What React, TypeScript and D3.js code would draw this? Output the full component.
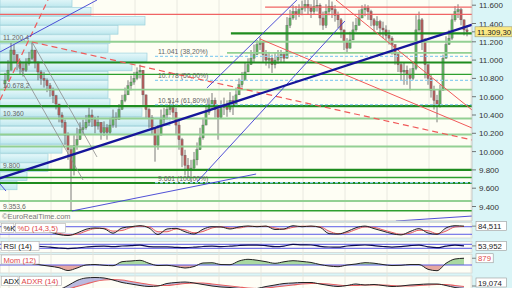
import React from "react";
import * as d3 from "d3";

const W = 512;
const H = 288;
const PLOT_R = 472;
const MAIN_B = 221;

// ---- Candles (price) ----
const firstOpen = 10740;
const closes = [
  10780, 10890, 11110, 11060, 10980, 10910, 10890, 10960, 11020, 11110,
  10980, 10870, 10800, 10780, 10720, 10670, 10610, 10520, 10400, 10320,
  10180, 10020, 9800, 10070, 10130, 10240, 10260, 10320, 10400, 10350,
  10280, 10320, 10210, 10260, 10210, 10290, 10370, 10350, 10460, 10560,
  10620, 10720, 10760, 10800, 10870, 10890, 10620, 10460, 10370, 10260,
  10070, 10180, 10350, 10400, 10460, 10480, 10430, 10290, 10130, 9960,
  9850, 9800, 9820, 9910, 10020, 10150, 10290, 10430, 10510, 10560,
  10460, 10370, 10480, 10510, 10460, 10560, 10510, 10620, 10730, 10780,
  10870, 10950, 11020, 11060, 11170, 11200, 11060, 11000, 11020, 10950,
  11000, 11030, 11060, 11020, 11380, 11460, 11530, 11500, 11550, 11570,
  11610, 11570, 11530, 11590, 11600, 11460, 11380, 11530, 11590, 11550,
  11490, 11440, 11330, 11200, 11130, 11220, 11330, 11380, 11460, 11550,
  11570, 11530, 11440, 11380, 11420, 11350, 11330, 11270, 11240, 11170,
  11060, 10950, 10870, 10890, 10840, 10800, 10910, 11330, 11440, 11220,
  10950, 10800, 10670, 10560, 10510, 10670, 11020, 11170, 11240, 11440,
  11530, 11550, 11440, 11330, 11309.3,
];
const highs = [
  10860, 11000, 11190, 11170, 11060, 11000, 10970, 11020, 11090, 11200.4,
  11110, 10960, 10890, 10870, 10800, 10750, 10700, 10620, 10510, 10430,
  10350, 10210, 10070, 10180, 10260, 10320, 10350, 10400, 10480, 10460,
  10380, 10390, 10320, 10330, 10300, 10370, 10460, 10430, 10520, 10620,
  10700, 10780, 10830, 10870, 10920, 10950, 10890, 10620, 10480, 10400,
  10260, 10290, 10460, 10480, 10520, 10560, 10540, 10480, 10350, 10150,
  10020, 9930, 9910, 9996, 10100, 10260, 10370, 10510, 10590, 10640,
  10590, 10480, 10560, 10590, 10560, 10650, 10610, 10700, 10800, 10870,
  10970, 11020, 11110, 11170, 11220, 11250, 11170, 11110, 11090, 11060,
  11080, 11110, 11110, 11090, 11470, 11550, 11600, 11590, 11610, 11650,
  11680, 11660, 11610, 11660, 11680, 11620, 11530, 11610, 11660, 11640,
  11600, 11530, 11460, 11330, 11240, 11310, 11420, 11460, 11550, 11600,
  11610, 11600, 11550, 11460, 11480, 11440, 11420, 11380, 11330, 11260,
  11170, 11090, 10980, 10970, 10940, 10910, 10980, 11490, 11530, 11460,
  11240, 10950, 10840, 10720, 10620, 10730, 11060, 11260, 11330, 11500,
  11590, 11610, 11570, 11440, 11380,
];
const lows = [
  10700, 10780, 10950, 10980, 10890, 10840, 10820, 10870, 10940, 11000,
  10910, 10780, 10730, 10700, 10650, 10600, 10530, 10460, 10320, 10260,
  10070, 9910, 9353.6, 9740, 10020, 10150, 10180, 10240, 10280, 10270,
  10200, 10240, 10130, 10170, 10130, 10190, 10260, 10260, 10350, 10460,
  10540, 10620, 10670, 10730, 10780, 10800, 10510, 10370, 10260, 10180,
  9890, 10020, 10240, 10290, 10350, 10400, 10350, 10180, 10020, 9830,
  9740, 9710, 9661, 9800, 9850, 10020, 10130, 10290, 10400, 10460,
  10370, 10130, 10370, 10400, 10380, 10430, 10400, 10510, 10640, 10700,
  10780, 10870, 10950, 10980, 11060, 11110, 10980, 10940, 10910, 10860,
  10910, 10960, 10980, 10970, 11060, 11350, 11440, 11440, 11470, 11490,
  11530, 11500, 11460, 11500, 11530, 11380, 11330, 11350, 11490, 11460,
  11420, 11350, 11240, 11110, 11080, 11130, 11240, 11310, 11380, 11460,
  11480, 11440, 11370, 11310, 11330, 11270, 11240, 11220, 11170, 11060,
  10950, 10870, 10780, 10730, 10730, 10670, 10780, 10890, 11310, 11110,
  10800, 10730, 10590, 10460, 10320, 10480, 10890, 11090, 11170, 11220,
  11420, 11460, 11380, 11270, 11260,
];

// ---- Volume profile ----
const vpLow = [
  11580, 11480, 11380, 11280, 11180, 11080, 10980, 10880, 10780, 10680, 10580,
  10480, 10380, 10280, 10180, 10080, 9980, 9880, 9780, 9680, 9580,
];
const vpVol = [72, 91, 145, 118, 110, 108, 147, 132, 108, 108, 108, 110, 142, 170, 152, 68, 62, 48, 48, 27, 17];

// ---- Horizontal levels ----
const hLevels = [11580, 11500, 11293, 11200.4, 11078, 10974, 10845, 10678.2, 10498, 10362, 10187, 10056, 9800, 9717, 9657, 9460, 9353.6];
const hStartIdx = [86.7, -3, 75.3, -3, 74, -3, -3, -3, -3, -3, -3, -3, -3, -3, -3, -3, -3];
const hKinds = ["red", "red", "dark", "light", "light", "dark", "mid", "light", "dark", "light", "light", "light", "dark", "mid", "dark", "light", "mid"];
const levelLabels = ["11.200,4", "10.678,2", "10.360", "9.800", "9.353,6"];
const levelLabelPrices = [11200.4, 10678.2, 10362, 9800, 9353.6];

// ---- Fibonacci ----
const fibLevels = [11041, 10778, 10514, 9661];
const fibLabels = ["11.041 (38,20%)", "10.778 (50,00%)", "10.514 (61,80%)", "9.661 (100,00%)"];
const fibStartIdx = 50;

// ---- Trend lines [idx, price, idx, price] ----
const trendNavy = [[-2, 9705, 156, 11390]];
const trendBlue = [
  [-1.67, 11089, 30.67, 11657],
  [67.3, 10695, 97.3, 11657],
  [64, 9668, 113.3, 11427],
  [22.3, 9351, 83.7, 9755],
  [130.3, 9241, 155.7, 9296],
  [-1.67, 9646, 0.33, 9569],
];
const trendGrey = [
  [9, 11198, 30.67, 9941],
  [4.33, 10947, 26, 9690],
];
const trendRedDash = [
  [9, 11198, 155.67, 10127],
  [-1.67, 10564, 14.33, 11657],
];
const trendRed = [
  [85, 11231, 155.67, 10258],
  [110.33, 11657, 155.67, 10455],
];

// ---- Indicators (sampled every 3 candles from index 9) ----
const stochK = [70, 58, 38, 18, 10, 30, 60, 70, 64, 28, 70, 80, 88, 70, 18, 62, 67, 40, 22, 60, 80, 78, 62, 78, 86, 80, 85, 58, 62, 88, 80, 85, 75, 25, 22, 42, 72, 85, 65, 45, 25, 15, 42, 65, 30, 20, 70, 88, 84.5];
const stochD = [72, 65, 48, 28, 15, 20, 45, 65, 68, 45, 50, 74, 84, 80, 40, 40, 62, 55, 32, 42, 70, 80, 70, 70, 82, 83, 83, 70, 60, 75, 84, 83, 80, 45, 25, 32, 58, 78, 75, 55, 35, 20, 28, 52, 48, 25, 45, 78, 82];
const rsi = [56, 48, 42, 33, 27, 33, 43, 50, 51, 46, 53, 56, 62, 47, 44, 45, 40, 37, 41, 48, 52, 47, 51, 58, 62, 62, 56, 47, 52, 69, 64, 63, 50, 43, 41, 53, 60, 63, 57, 48, 42, 47, 56, 62, 45, 36, 52, 62, 54];
const mom = [220, 0, -160, -350, -720, -390, 0, 60, -40, -90, 430, 520, 610, 220, -70, -40, -200, -390, -200, 260, 290, 60, 40, 520, 740, 620, 430, 220, 420, 560, 460, 330, 60, -130, -220, 0, 130, 300, 230, 60, -70, -40, 60, 60, -560, -740, 220, 780, 879];
const adx = [14, 14, 15, 17, 25, 35, 40, 41, 40, 36, 31, 28, 25, 23, 24, 29, 31, 32, 30, 27, 24, 22, 21, 19, 17, 19, 23, 26, 29, 30, 31, 31, 28, 25, 23, 25, 28, 26, 27, 25, 23, 24, 26, 27, 28, 28, 25, 21, 19.07];
const adxr = [13, 13, 14, 15, 18, 23, 28, 33, 36, 37, 36, 33, 30, 27, 25, 25, 27, 29, 30, 30, 28, 26, 24, 22, 20, 19, 20, 22, 24, 26, 28, 29, 29, 28, 26, 25, 25, 26, 26, 26, 25, 24, 24, 25, 26, 27, 27, 25, 23];

const priceTicks = [9400, 9600, 9800, 10000, 10200, 10400, 10600, 10800, 11000, 11200, 11400, 11600];
const lastPriceLabel = "11.309,30";

const loc = d3.formatLocale({ decimal: ",", thousands: ".", grouping: [3], currency: ["", ""] });
const fmtTick = loc.format(",.0f");

const FONT = "Liberation Sans, Arial, sans-serif";

const kindStyle: Record<string, { c: string; w: number }> = {
  red: { c: "#f06464", w: 1.2 },
  dark: { c: "#1f8c1f", w: 2.2 },
  mid: { c: "#2f9f2f", w: 1.3 },
  light: { c: "#93d093", w: 1.8 },
};

export default function App() {
  const n = closes.length;
  const x = d3.scaleLinear().domain([0, n - 1]).range([5, 467]);
  const y = d3.scaleLinear().domain([9400, 11600]).range([206.5, 5.2]);
  const vScale = d3.scaleLinear().domain([0, 170]).range([0, 170]);
  const opens = closes.map((c, i) => (i === 0 ? firstOpen : closes[i - 1]));
  const sampleIdx = d3.range(9, n - 1, 3);

  const panels = [
    { top: 222.5, bottom: 238 },
    { top: 241.5, bottom: 252.5 },
    { top: 254.5, bottom: 273 },
    { top: 276, bottom: 296 },
  ];
  const yS = d3.scaleLinear().domain([0, 100]).range([236.8, 224.2]);
  const yR = d3.scaleLinear().domain([30, 70]).range([248.3, 244.3]);
  const yM = d3.scaleLinear().domain([-910, 1300]).range([272, 255]);
  const yA = d3.scaleLinear().domain([19, 41]).range([288.5, 277.5]);

  const lineOf = (arr: number[], ys: d3.ScaleLinear<number, number>) =>
    d3.line<number>().x((_, i) => x(sampleIdx[i])).y((d) => ys(d)).curve(d3.curveMonotoneX)(arr) || "";

  const momArea = d3.area<number>().x((_, i) => x(sampleIdx[i])).y0(yM(0)).y1((d) => yM(d)).curve(d3.curveMonotoneX)(mom) || "";
  const adxArea = d3.area<number>().x((_, i) => x(sampleIdx[i])).y0((_, i) => yA(adxr[i])).y1((d) => yA(d)).curve(d3.curveMonotoneX)(adx) || "";
  const stochArea = d3.area<number>().x((_, i) => x(sampleIdx[i])).y0((_, i) => yS(stochD[i])).y1((d) => yS(d)).curve(d3.curveMonotoneX)(stochK) || "";

  const seg = (t: number[], key: string, stroke: string, w: number, dash?: string) => (
    <line key={key} x1={x(t[0])} y1={y(t[1])} x2={x(t[2])} y2={y(t[3])} stroke={stroke} strokeWidth={w} strokeDasharray={dash} />
  );

  const gridX = d3.range(9, PLOT_R, 42);

  const labelBox = (parts: { t: string; c: string }[], x0: number, yc: number) => {
    let cx = x0;
    return parts.map((p, i) => {
      const w = p.t.length * 4.2 + 4;
      const el = (
        <g key={i}>
          <rect x={cx} y={yc - 4.5} width={w} height={9} fill="#ffffff" stroke="#b0b0b0" strokeWidth={0.6} />
          <text x={cx + 2} y={yc + 3} fontSize={7.6} fill={p.c} fontFamily={FONT}>{p.t}</text>
        </g>
      );
      cx += w + 1.5;
      return el;
    });
  };

  const valueBox = (t: string, yc: number, color: string, tickY?: number) => (
    <g>
      <line x1={PLOT_R} x2={PLOT_R + 4} y1={tickY ?? yc} y2={tickY ?? yc} stroke="#666" strokeWidth={0.8} />
      <rect x={476} y={yc - 4.5} width={t.length * 4.4 + 4} height={9} fill="#ffffff" stroke="#999" strokeWidth={0.6} />
      <text x={478} y={yc + 3} fontSize={7.8} fill={color} fontFamily={FONT}>{t}</text>
    </g>
  );

  return (
    <div style={{ position: "absolute", left: 0, top: 0, width: W, height: H }}>
      <svg width={W} height={H} viewBox={`0 0 ${W} ${H}`} style={{ display: "block" }}>
        <defs>
          <linearGradient id="vpg" x1="0" y1="0" x2="0" y2="1">
            <stop offset="0" stopColor="#e6f8fa" />
            <stop offset="1" stopColor="#bfe8ee" />
          </linearGradient>
          <clipPath id="mainClip"><rect x={0} y={0} width={PLOT_R} height={MAIN_B} /></clipPath>
          {panels.map((p, i) => (
            <clipPath key={i} id={`pc${i}`}><rect x={0} y={p.top} width={PLOT_R} height={p.bottom - p.top} /></clipPath>
          ))}
          <clipPath id="momUp"><rect x={0} y={panels[2].top} width={PLOT_R} height={yM(0) - panels[2].top} /></clipPath>
          <clipPath id="momDn"><rect x={0} y={yM(0)} width={PLOT_R} height={panels[2].bottom - yM(0)} /></clipPath>
        </defs>

        <rect x={0} y={0} width={W} height={H} fill="#daf5f7" />
        <rect x={0} y={0} width={PLOT_R} height={MAIN_B} fill="#fefef4" />
        {panels.map((p, i) => (
          <rect key={i} x={0} y={p.top} width={PLOT_R} height={p.bottom - p.top} fill="#fefef6" stroke="#c8c8c8" strokeWidth={0.6} />
        ))}

        {gridX.map((gx) => (
          <line key={gx} x1={gx} x2={gx} y1={0} y2={H} stroke="#e4e4dc" strokeWidth={0.8} />
        ))}

        <g clipPath="url(#mainClip)">
          {vpLow.map((lo, i) => (
            <rect key={lo} x={0} y={y(lo + 100) + 0.3} width={vScale(vpVol[i])} height={y(lo) - y(lo + 100) - 0.6}
              fill="url(#vpg)" stroke="#9ed2dc" strokeWidth={0.7} />
          ))}

          {closes.map((c, i) => {
            const o = opens[i];
            const hi = Math.max(highs[i], o, c);
            const lo = Math.min(lows[i], o, c);
            const up = c >= o;
            const top = y(Math.max(o, c));
            const bh = Math.max(1, y(Math.min(o, c)) - top);
            return (
              <g key={i}>
                <line x1={x(i)} x2={x(i)} y1={y(hi)} y2={y(lo)} stroke="#5a5a5a" strokeWidth={0.8} />
                <rect x={x(i) - 1.1} y={top} width={2.2} height={bh} fill={up ? "#62b262" : "#b45e5e"} stroke="#555" strokeWidth={0.35} />
              </g>
            );
          })}

          {hLevels.map((lv, i) => {
            const s = kindStyle[hKinds[i]];
            return <line key={i} x1={x(hStartIdx[i])} x2={PLOT_R} y1={y(lv)} y2={y(lv)} stroke={s.c} strokeWidth={s.w} />;
          })}

          {fibLevels.map((lv, i) => (
            <g key={lv}>
              <line x1={x(fibStartIdx)} x2={PLOT_R} y1={y(lv)} y2={y(lv)} stroke="#8fd0f0" strokeWidth={1.2} strokeDasharray="3,2" />
              <text x={x(fibStartIdx) + 3} y={y(lv) - 2} fontSize={6.8} fill="#666" fontFamily={FONT}>{fibLabels[i]}</text>
            </g>
          ))}

          {trendGrey.map((t, i) => seg(t, `g${i}`, "#8a8a8a", 0.8))}
          {trendRedDash.map((t, i) => seg(t, `rd${i}`, "#f05a5a", 1.2, "6,4"))}
          {trendRed.map((t, i) => seg(t, `r${i}`, "#f05a5a", 1))}
          {trendBlue.map((t, i) => seg(t, `b${i}`, "#3c3cd2", 0.9))}
          {trendNavy.map((t, i) => seg(t, `n${i}`, "#16169a", 2.3))}

          {levelLabels.map((t, i) => (
            <text key={t} x={3} y={y(levelLabelPrices[i]) - 2} fontSize={6.8} fill="#666" fontFamily={FONT}>{t}</text>
          ))}
          <text x={2} y={219} fontSize={7.4} fill="#777" fontFamily={FONT}>©EuroRealTime.com</text>
        </g>
        <line x1={0} x2={PLOT_R} y1={MAIN_B} y2={MAIN_B} stroke="#bdbdbd" strokeWidth={0.8} />
        <line x1={PLOT_R} x2={PLOT_R} y1={0} y2={MAIN_B} stroke="#bdbdbd" strokeWidth={0.8} />

        {priceTicks.map((t) => (
          <g key={t}>
            <line x1={PLOT_R} x2={PLOT_R + 4} y1={y(t)} y2={y(t)} stroke="#555" strokeWidth={0.8} />
            <text x={479} y={y(t) + 3} fontSize={8} fill="#333" fontFamily={FONT}>{fmtTick(t)}</text>
          </g>
        ))}
        <line x1={PLOT_R} x2={PLOT_R + 4} y1={y(closes[n - 1])} y2={y(closes[n - 1])} stroke="#555" strokeWidth={0.8} />
        <rect x={475} y={y(closes[n - 1]) - 5} width={37} height={10} fill="#fbe985" stroke="#9a9a7a" strokeWidth={0.6} />
        <text x={477} y={y(closes[n - 1]) + 3} fontSize={7.8} fill="#222" fontFamily={FONT}>{lastPriceLabel}</text>

        <g clipPath="url(#pc0)">
          <path d={stochArea} fill="#c9a9d9" opacity={0.45} />
          <line x1={0} x2={PLOT_R} y1={yS(80)} y2={yS(80)} stroke="#5a5ae6" strokeWidth={1} />
          <line x1={0} x2={PLOT_R} y1={yS(20)} y2={yS(20)} stroke="#5a5ae6" strokeWidth={1} />
          <path d={lineOf(stochD, yS)} fill="none" stroke="#e86060" strokeWidth={1} />
          <path d={lineOf(stochK, yS)} fill="none" stroke="#222" strokeWidth={1} />
        </g>
        {labelBox([{ t: "%K", c: "#111" }, { t: "%D (14,3,5)", c: "#e04848" }], 1.5, 228)}
        {valueBox("84,511", yS(stochK[stochK.length - 1]), "#222")}

        <g clipPath="url(#pc1)">
          <line x1={0} x2={PLOT_R} y1={yR(70)} y2={yR(70)} stroke="#5a5ae6" strokeWidth={1} />
          <line x1={0} x2={PLOT_R} y1={yR(30)} y2={yR(30)} stroke="#5a5ae6" strokeWidth={1} />
          <path d={lineOf(rsi, yR)} fill="none" stroke="#0a0a50" strokeWidth={1.2} />
        </g>
        {labelBox([{ t: "RSI (14)", c: "#111" }], 1.5, 246)}
        {valueBox("53,952", yR(rsi[rsi.length - 1]), "#222")}

        <g clipPath="url(#pc2)">
          <path d={momArea} fill="#a9d8a0" clipPath="url(#momUp)" />
          <path d={momArea} fill="#e6a8a0" clipPath="url(#momDn)" />
          <line x1={0} x2={PLOT_R} y1={yM(0)} y2={yM(0)} stroke="#5a5ae6" strokeWidth={1} />
          <path d={lineOf(mom, yM)} fill="none" stroke="#222" strokeWidth={1} />
        </g>
        {labelBox([{ t: "Mom (12)", c: "#e04848" }], 1.5, 259.5)}
        {valueBox("879", yM(mom[mom.length - 1]), "#e04848")}

        <g clipPath="url(#pc3)">
          <path d={adxArea} fill="#9c9cd6" opacity={0.7} />
          <path d={lineOf(adxr, yA)} fill="none" stroke="#e86060" strokeWidth={1.1} />
          <path d={lineOf(adx, yA)} fill="none" stroke="#222" strokeWidth={1} />
        </g>
        {labelBox([{ t: "ADX", c: "#111" }, { t: "ADXR (14)", c: "#e04848" }], 1.5, 281)}
        {valueBox("19,074", 282.5, "#222", 286)}
      </svg>
    </div>
  );
}
